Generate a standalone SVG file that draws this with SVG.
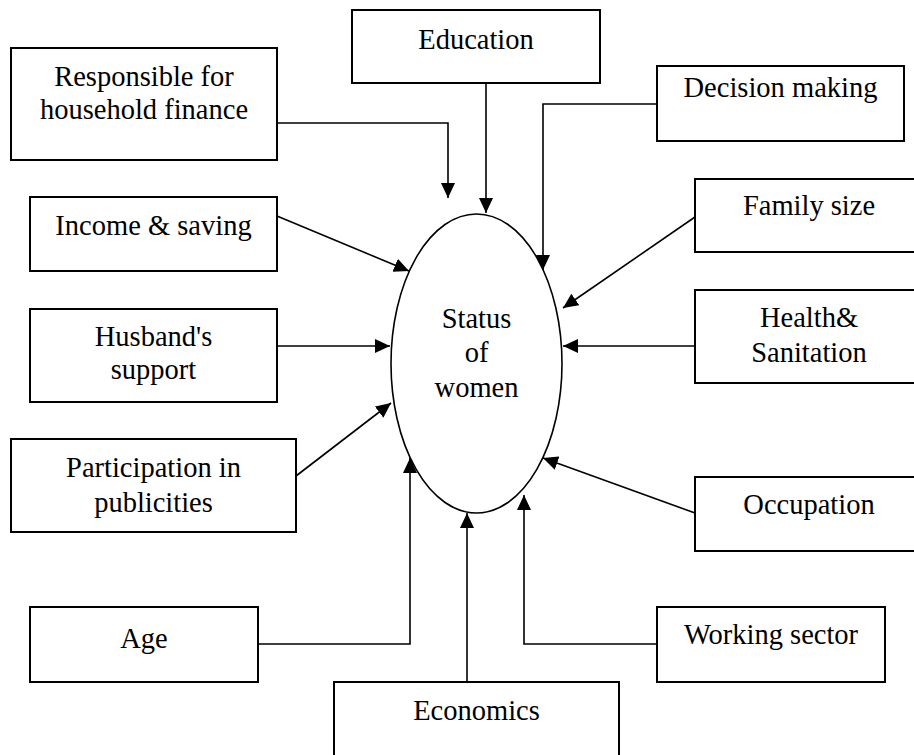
<svg xmlns="http://www.w3.org/2000/svg" width="914" height="755" viewBox="0 0 914 755">
<style>
.box{fill:#fff;stroke:#000;stroke-width:2}
.t{font-family:'Liberation Serif','Times New Roman',serif;font-size:28.5px;fill:#000;text-anchor:middle}
.c{fill:none;stroke:#000;stroke-width:1.6;marker-end:url(#ah)}
</style>
<defs>
<marker id="ah" viewBox="0 0 15 14" refX="15" refY="7" markerWidth="15" markerHeight="14" markerUnits="userSpaceOnUse" orient="auto">
<path d="M0,0 L15,7 L0,14 z" fill="#000"/>
</marker>
</defs>
<rect width="914" height="755" fill="#fff"/>
<g id="connectors">
<path class="c" d="M277,123 H448 V198"/>
<path class="c" d="M486,83 V213"/>
<path class="c" d="M657,104 H543 V270"/>
<path class="c" d="M695,217 L563,308"/>
<path class="c" d="M695,346 H563"/>
<path class="c" d="M695,513 L543,458"/>
<path class="c" d="M277,216 L409,271"/>
<path class="c" d="M277,346 H390"/>
<path class="c" d="M296,476 L391,403"/>
<path class="c" d="M258,644 H410 V458"/>
<path class="c" d="M467,682 V513"/>
<path class="c" d="M657,644 H524 V495"/>
</g>
<g id="status">
<ellipse cx="476.5" cy="363.5" rx="85.5" ry="149.5" fill="none" stroke="#000" stroke-width="1.6"/>
<text class="t" x="476.5" y="328">Status</text>
<text class="t" x="476.5" y="362">of</text>
<text class="t" x="476.5" y="397">women</text>
</g>
<g id="responsible">
<rect class="box" x="11" y="48" width="266" height="112"/>
<text class="t" x="144" y="86">Responsible for</text>
<text class="t" x="144" y="119">household finance</text>
</g>
<g id="education">
<rect class="box" x="352" y="10" width="248" height="73"/>
<text class="t" x="476" y="49">Education</text>
</g>
<g id="decision">
<rect class="box" x="657" y="66" width="247" height="75"/>
<text class="t" x="780.5" y="97">Decision making</text>
</g>
<g id="family">
<rect class="box" x="695" y="179" width="230" height="73"/>
<text class="t" x="809" y="215">Family size</text>
</g>
<g id="health">
<rect class="box" x="695" y="290" width="230" height="93"/>
<text class="t" x="809" y="327">Health&amp;</text>
<text class="t" x="809" y="362">Sanitation</text>
</g>
<g id="occupation">
<rect class="box" x="695" y="477" width="230" height="74"/>
<text class="t" x="809" y="514">Occupation</text>
</g>
<g id="income">
<rect class="box" x="30" y="197" width="247" height="74"/>
<text class="t" x="153.5" y="235">Income &amp; saving</text>
</g>
<g id="husband">
<rect class="box" x="30" y="309" width="247" height="93"/>
<text class="t" x="153.5" y="346">Husband's</text>
<text class="t" x="153.5" y="379">support</text>
</g>
<g id="participation">
<rect class="box" x="11" y="439" width="285" height="93"/>
<text class="t" x="153.5" y="477">Participation in</text>
<text class="t" x="153.5" y="512">publicities</text>
</g>
<g id="age">
<rect class="box" x="30" y="607" width="228" height="75"/>
<text class="t" x="144" y="648">Age</text>
</g>
<g id="economics">
<rect class="box" x="334" y="682" width="285" height="90"/>
<text class="t" x="476.5" y="720">Economics</text>
</g>
<g id="working">
<rect class="box" x="657" y="607" width="228" height="75"/>
<text class="t" x="771" y="644">Working sector</text>
</g>
</svg>
